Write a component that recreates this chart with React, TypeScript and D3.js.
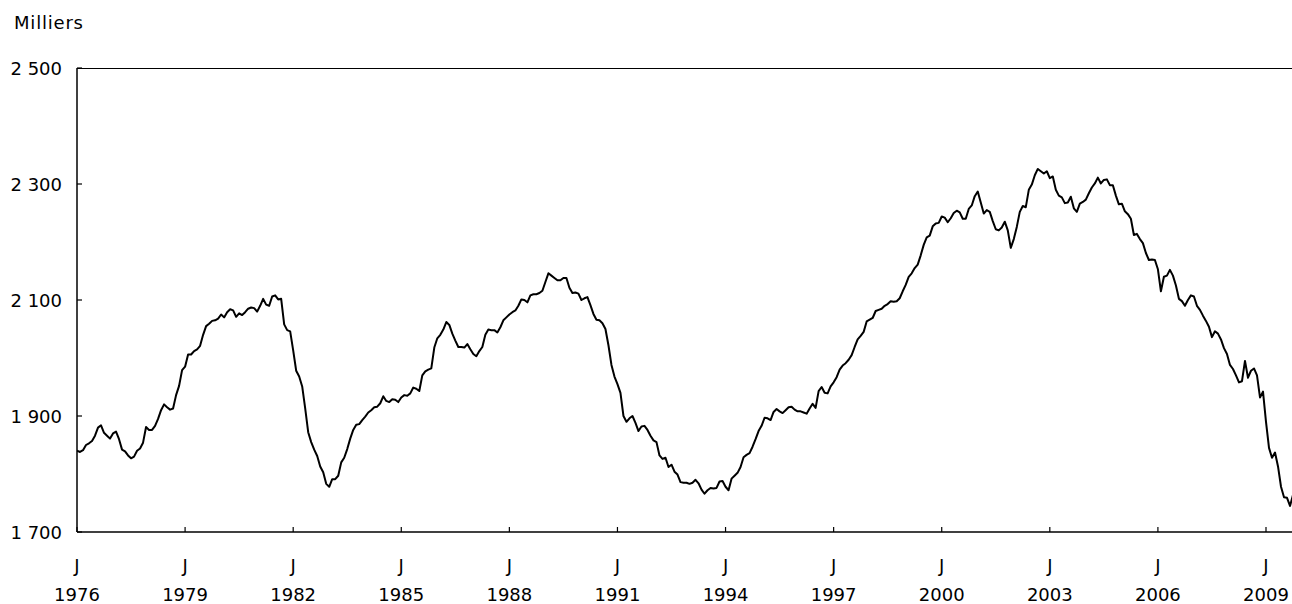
import React from "react";
import * as d3 from "d3";

// Monthly values (thousands), starting January 1976
const startYear = 1976;
const values: number[] = [
  // 1976
  1840, 1838, 1841, 1850, 1853, 1857, 1866, 1880, 1884, 1871, 1866, 1861,
  // 1977
  1870, 1873, 1860, 1842, 1839, 1832, 1827, 1830, 1840, 1844, 1854, 1881,
  // 1978
  1876, 1876, 1883, 1895, 1910, 1920, 1915, 1911, 1913, 1936, 1952, 1979,
  // 1979
  1985, 2006, 2006, 2012, 2015, 2021, 2040, 2055, 2059, 2064, 2065, 2068,
  // 1980
  2075, 2070, 2079, 2084, 2082, 2071, 2077, 2074, 2079, 2085, 2087, 2086,
  // 1981
  2080, 2090, 2102, 2092, 2090, 2106, 2108, 2101, 2102, 2058, 2048, 2046,
  // 1982
  2013, 1978, 1968, 1951, 1913, 1872, 1855, 1842, 1831, 1813, 1803, 1783,
  // 1983
  1778, 1791, 1791, 1797, 1820, 1828, 1843, 1861, 1876, 1885, 1886, 1893,
  // 1984
  1899, 1906, 1910, 1915, 1916, 1922, 1934, 1926, 1924, 1929, 1928, 1924,
  // 1985
  1932, 1936, 1935, 1939, 1949, 1947, 1943, 1970, 1977, 1980, 1982, 2018,
  // 1986
  2034, 2040, 2049, 2062, 2057, 2042, 2030, 2019, 2019, 2018, 2024, 2015,
  // 1987
  2007, 2003, 2012, 2019, 2040, 2049, 2048, 2048, 2044, 2053, 2065, 2070,
  // 1988
  2075, 2079, 2082, 2090, 2101, 2100, 2096, 2108, 2110, 2110, 2112, 2116,
  // 1989
  2131, 2146, 2142, 2138, 2134, 2134, 2138, 2138, 2121, 2112, 2113, 2111,
  // 1990
  2100, 2103, 2105, 2091, 2076, 2066, 2065, 2060, 2050, 2022, 1988, 1968,
  // 1991
  1955, 1940, 1900, 1890, 1896, 1900, 1888, 1874, 1882, 1883, 1876, 1866,
  // 1992
  1858, 1855, 1832, 1826, 1828, 1812, 1816, 1804, 1799, 1786, 1785, 1785,
  // 1993
  1783, 1785, 1790, 1784, 1773, 1766, 1772, 1776, 1775, 1776, 1787, 1788,
  // 1994
  1778, 1772, 1792, 1797, 1802, 1812, 1829, 1833, 1836, 1847, 1860, 1874,
  // 1995
  1883, 1897, 1896, 1893, 1907, 1912, 1908, 1905, 1910, 1915, 1916, 1911,
  // 1996
  1908, 1908, 1906, 1904, 1913, 1921, 1914, 1943, 1950, 1940, 1939, 1951,
  // 1997
  1958, 1967, 1980, 1987, 1991, 1997, 2005, 2019, 2032, 2038, 2045, 2063,
  // 1998
  2066, 2069, 2081, 2083, 2085, 2090, 2093, 2098, 2097, 2098, 2103, 2115,
  // 1999
  2126, 2140, 2146, 2155, 2161, 2177, 2195, 2208, 2211, 2227, 2232, 2233,
  // 2000
  2244, 2242, 2234, 2241, 2250, 2254, 2251, 2240, 2240, 2257, 2263, 2279,
  // 2001
  2287, 2268, 2249, 2255, 2252, 2236, 2222, 2220, 2225, 2235, 2220, 2190,
  // 2002
  2205, 2226, 2252, 2262, 2260, 2290, 2299, 2315, 2326, 2322, 2318, 2322,
  // 2003
  2310, 2313, 2290, 2280, 2277, 2267, 2268, 2278, 2258, 2252, 2266, 2269,
  // 2004
  2273, 2284, 2294, 2301, 2311, 2301, 2307, 2308, 2298, 2298, 2280, 2265,
  // 2005
  2266, 2253, 2248, 2240, 2212, 2214, 2205, 2198, 2181, 2169, 2170, 2169,
  // 2006
  2153, 2115, 2140, 2142, 2152, 2142, 2125, 2102, 2098, 2090, 2100, 2108,
  // 2007
  2106, 2090, 2083, 2073, 2064, 2054, 2036, 2046, 2042, 2032, 2017, 2007,
  // 2008
  1988, 1981, 1970, 1958, 1960, 1995, 1966, 1978, 1982, 1970, 1932, 1942,
  // 2009
  1890, 1845, 1828, 1837, 1813, 1778, 1760, 1759, 1745, 1764,
];

const yTicks = [1700, 1900, 2100, 2300, 2500];
const tickYears = [1976, 1979, 1982, 1985, 1988, 1991, 1994, 1997, 2000, 2003, 2006, 2009];
const monthLetter = "J";
const unitLabel = "Milliers";

const fmt = (v: number) => {
  const s = String(v);
  return s.length > 3 ? s.slice(0, s.length - 3) + " " + s.slice(s.length - 3) : s;
};

export default function App() {
  const W = 1292;
  const H = 604;
  const left = 77;
  const right = 1292;
  const top = 68;
  const bottom = 532;

  const x = d3.scaleLinear().domain([0, 396]).range([77, 1266]);
  const y = d3.scaleLinear().domain([1700, 2500]).range([bottom, top]);

  const line = d3
    .line<number>()
    .x((_, i) => x(i))
    .y((d) => y(d));

  const font = "'DejaVu Sans', sans-serif";

  return (
    <svg
      width={W}
      height={H}
      style={{ position: "absolute", left: 0, top: 0, background: "#fff" }}
    >
      <defs>
        <clipPath id="plot">
          <rect x={left} y={top - 2} width={right - left} height={bottom - top + 4} />
        </clipPath>
      </defs>
      <text x={14} y={29} fontFamily={font} fontSize={18} letterSpacing={0.8} fill="#000">
        {unitLabel}
      </text>
      {/* frame */}
      <line x1={left} x2={right} y1={top + 0.5} y2={top + 0.5} stroke="#000" strokeWidth={1.2} />
      <line x1={left} x2={right} y1={bottom} y2={bottom} stroke="#000" strokeWidth={1.5} />
      <line x1={left} x2={left} y1={top} y2={bottom} stroke="#000" strokeWidth={1.5} />
      {/* y ticks and labels */}
      {yTicks.map((t) => (
        <g key={t}>
          <line x1={left} x2={left + 5} y1={y(t)} y2={y(t)} stroke="#000" strokeWidth={1.2} />
          <text
            x={62}
            y={y(t) + 6.5}
            textAnchor="end"
            fontFamily={font}
            fontSize={18}
            fill="#000"
          >
            {fmt(t)}
          </text>
        </g>
      ))}
      {/* x ticks and labels */}
      {tickYears.map((yr) => {
        const px = x((yr - startYear) * 12);
        return (
          <g key={yr}>
            <line x1={px} x2={px} y1={bottom} y2={bottom - 5} stroke="#000" strokeWidth={1.2} />
            <text x={px} y={572} textAnchor="middle" fontFamily={font} fontSize={18} fill="#000">
              {monthLetter}
            </text>
            <text x={px} y={601} textAnchor="middle" fontFamily={font} fontSize={18} fill="#000">
              {yr}
            </text>
          </g>
        );
      })}
      <path
        d={line(values) || ""}
        fill="none"
        stroke="#000"
        strokeWidth={2}
        strokeLinejoin="round"
        clipPath="url(#plot)"
      />
    </svg>
  );
}
